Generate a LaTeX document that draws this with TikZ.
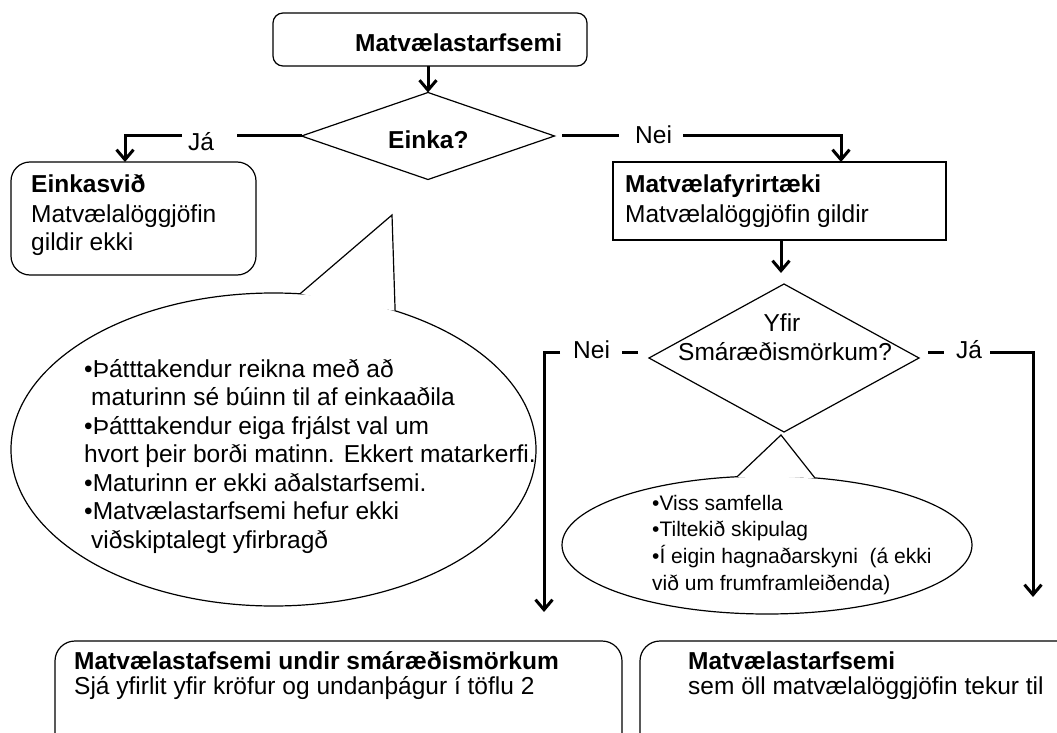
\documentclass[tikz,border=0pt]{standalone}
\usepackage{fontspec}
\setmainfont{Liberation Sans}
\usetikzlibrary{arrows.meta,shapes.geometric,calc}
\newcommand\ftmain{\fontsize{24.5}{29}\selectfont}
\newcommand\ftsmall{\fontsize{21}{26}\selectfont}
\begin{document}
\begin{tikzpicture}[x=1pt,y=-1pt,
  box/.style={draw, line width=1.2pt, inner sep=0pt, outer sep=0pt, anchor=north west},
  dia/.style={draw, diamond, line width=1.2pt, inner sep=0pt, outer sep=0pt},
  conn/.style={line width=3pt},
  arr/.style={-{Straight Barb[length=10pt,width=17pt]}},
  txt/.style={inner sep=0pt, anchor=base west, font=\ftmain},
  btxt/.style={inner sep=0pt, anchor=base west, font=\ftmain\bfseries},
  stxt/.style={inner sep=0pt, anchor=base west, font=\ftsmall},
  bubble/.style={line width=1.2pt}]
\useasboundingbox (0,0) rectangle (1057,733);
\clip (0,0) rectangle (1057,733);

% boxes
\node[box, rounded corners=10pt, minimum width=314pt, minimum height=53pt] (top) at (273,13) {};
\node[box, rounded corners=19pt, minimum width=245pt, minimum height=113pt] (eink) at (11,162) {};
\node[box, minimum width=333pt, minimum height=78pt] (mf) at (613,162) {};
\node[box, rounded corners=20pt, minimum width=567pt, minimum height=125pt] (bl) at (55,641) {};
\node[box, rounded corners=20pt, minimum width=440pt, minimum height=125pt] (br) at (640,641) {};

% diamonds
\node[dia, minimum width=253pt, minimum height=87pt] (d1) at (428,136) {};
\node[dia, minimum width=270pt, minimum height=148pt] (d2) at (784,358) {};

% big callout
\node[draw, ellipse, line width=1.2pt, inner sep=0pt, minimum width=525pt, minimum height=313pt] (bub) at (273.5,449.5) {};
\coordinate (bt) at (392,215);
\coordinate (bb1) at ($(bub.center)+(-84.2:262.5 and 156.5)$);
\coordinate (bb2) at ($(bub.center)+(-62.4:262.5 and 156.5)$);
\fill[white] (bb1) -- (bt) -- (bb2) -- cycle;
\draw[bubble] (bb1) -- (bt) -- (bb2);

% small callout
\node[draw, ellipse, line width=1.2pt, inner sep=0pt, minimum width=410pt, minimum height=138pt] (sub) at (767,545) {};
\coordinate (st) at (781,435);
\coordinate (sb1) at ($(sub.center)+(-98.4:205 and 69)$);
\coordinate (sb2) at ($(sub.center)+(-76.5:205 and 69)$);
\fill[white] (sb1) -- (st) -- (sb2) -- cycle;
\draw[bubble] (sb1) -- (st) -- (sb2);

% connectors
\draw[conn, arr] (top.south -| d1.north) -- (d1.north);

\coordinate (ja1) at (237,136);
\coordinate (ja2) at (182,136);
\draw[conn] (d1.west) -- (ja1);
\draw[conn, arr] (ja2) -| ([xshift=-8.5pt]eink.north);

\coordinate (ne1) at (562,136);
\coordinate (ne2) at (619,136);
\coordinate (ne3) at (683,136);
\draw[conn] (ne1) -- (ne2);
\draw[conn, arr] (ne3) -| ([xshift=61.5pt]mf.north);

\coordinate (mid) at (781,273);
\draw[conn, arr] (mf.south -| mid) -- (mid);

\coordinate (nl1) at (638,352);
\coordinate (nl2) at (622,352);
\coordinate (nl3) at (560,352);
\coordinate (nlend) at (544,612);
\draw[conn] (nl1) -- (nl2);
\draw[conn, arr] (nl3) -| (nlend);

\coordinate (jr1) at (928,352);
\coordinate (jr2) at (944,352);
\coordinate (jr3) at (990,352);
\coordinate (jrend) at (1033,597);
\draw[conn] (jr1) -- (jr2);
\draw[conn, arr] (jr3) -| (jrend);

% texts
\node[btxt] (ttop) at (355,52) {Matvælastarfsemi};
\node[btxt] (tein) at (388,148) {Einka?};
\node[txt] (tja1) at (188,150) {Já};
\node[btxt] (e1) at (31,192) {Einkasvið};
\node[txt] (e2) at (31,222) {Matvælalöggjöfin};
\node[txt] (e3) at (31,250) {gildir ekki};
\node[txt] (tnei1) at (635,143) {Nei};
\node[btxt] (m1) at (625,192) {Matvælafyrirtæki};
\node[txt] (m2) at (625,222) {Matvælalöggjöfin gildir};
\node[inner sep=0pt, anchor=base, font=\ftmain] (y1) at (782,331) {Yfir};
\node[txt] (y2) at (678,360.5) {Smáræðismörkum?};
\node[txt] (tnei2) at (573,358) {Nei};
\node[txt] (tja2) at (956,358) {Já};

\node[txt] (b1) at (84,377) {•Þátttakendur reikna með að};
\node[txt] (b2) at (91,405.5) {maturinn sé búinn til af einkaaðila};
\node[txt] (b3) at (84,434) {•Þátttakendur eiga frjálst val um};
\node[txt] (b4) at (84,462.5) {hvort þeir borði matinn. Ekkert matarkerfi.};
\node[txt] (b5) at (84,491) {•Maturinn er ekki aðalstarfsemi.};
\node[txt] (b6) at (84,519.5) {•Matvælastarfsemi hefur ekki};
\node[txt] (b7) at (91,548) {viðskiptalegt yfirbragð};

\node[stxt] (s1) at (652,510.7) {•Viss samfella};
\node[stxt] (s2) at (652,536.7) {•Tiltekið skipulag};
\node[stxt] (s3) at (652,563) {•Í eigin hagnaðarskyni~ (á ekki};
\node[stxt] (s4) at (652,590) {við um frumframleiðenda)};

\node[btxt] (l1) at (74,669) {Matvælastafsemi undir smáræðismörkum};
\node[txt] (l2) at (74,694) {Sjá yfirlit yfir kröfur og undanþágur í töflu 2};
\node[btxt] (r1) at (688,669) {Matvælastarfsemi};
\node[txt] (r2) at (688,694) {sem öll matvælalöggjöfin tekur til};
\end{tikzpicture}
\end{document}
